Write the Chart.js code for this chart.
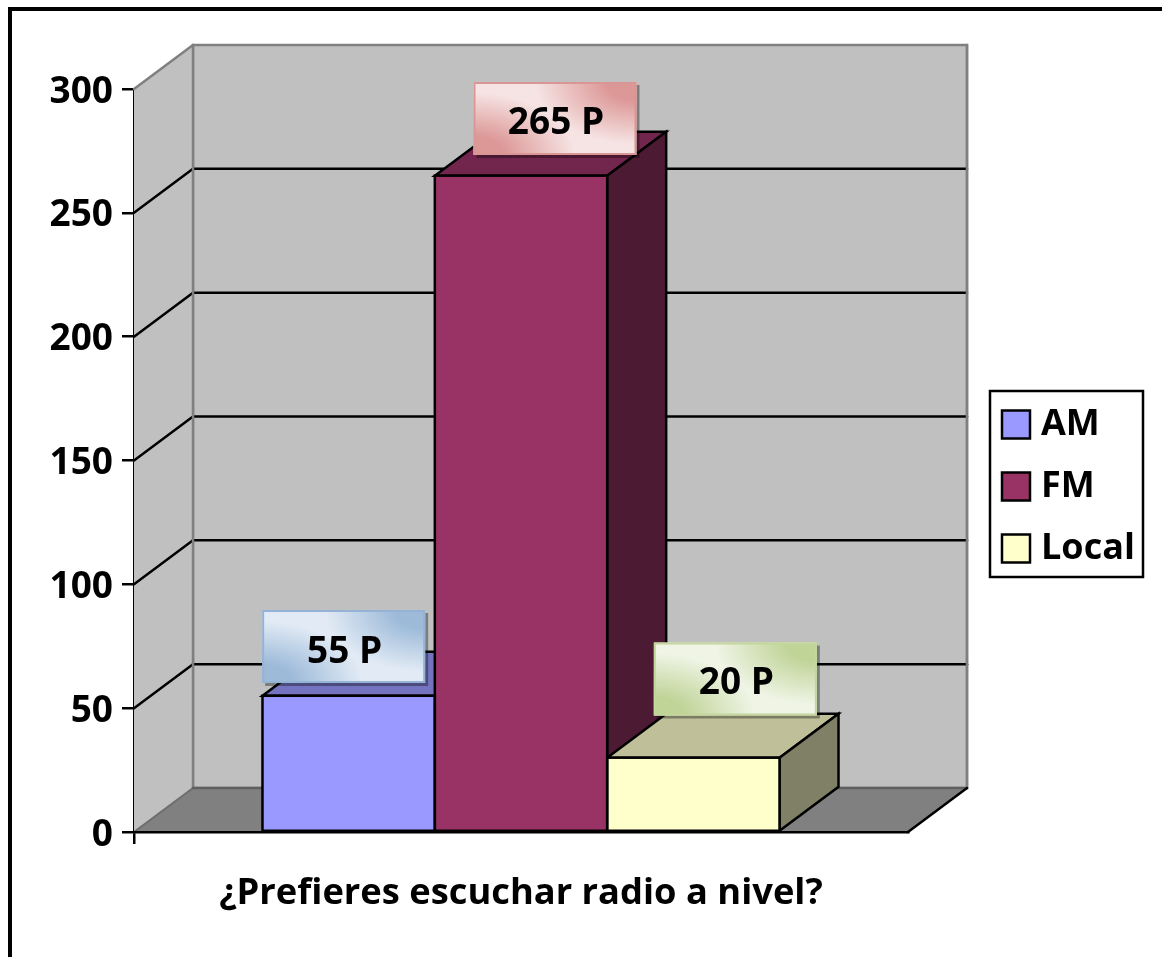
<!DOCTYPE html>
<html>
<head>
<meta charset="utf-8">
<style>html,body{margin:0;padding:0;background:#fff}canvas{display:block}</style>
<script src="https://cdn.jsdelivr.net/npm/chart.js@4"></script>
</head>
<body>
<canvas id="c" width="1162" height="957"></canvas>
<script>
const categories = ["¿Prefieres escuchar radio a nivel?"];
const seriesNames = ["AM", "FM", "Local"];
const amValues = [55];
const fmValues = [265];
const localValues = [30];
const pointLabels = ["55 P", "265 P", "20 P"];
const yMax = 300;
const yStep = 50;

const FONT = "'Open Sans'";
const DEPTH_X = 59, DEPTH_Y = 44;
const faceStyles = [
  {front:"#9999FF", top:"#7373BF", side:"#4D4D80"},
  {front:"#993366", top:"#73264D", side:"#4D1A33"},
  {front:"#FFFFCC", top:"#BFBF99", side:"#808066"}
];
const labelStyles = [
  {dx:-5, cy:646.5, ty:6, light:"#E2EBF5", dark:"#9DBAD9", border:"#95B3D7"},
  {dx:34, cy:118.5, ty:4.5, light:"#F6E3E3", dark:"#DC9897", border:"#D99694"},
  {dx:42, cy:679, ty:4.5, light:"#EFF4E5", dark:"#C0D498", border:"#C3D69B"}
];

function poly(ctx, pts, fill, stroke, lw) {
  ctx.beginPath();
  pts.forEach((p, i) => i ? ctx.lineTo(p[0], p[1]) : ctx.moveTo(p[0], p[1]));
  ctx.closePath();
  if (fill) { ctx.fillStyle = fill; ctx.fill(); }
  if (stroke) { ctx.strokeStyle = stroke; ctx.lineWidth = lw; ctx.lineJoin = "miter"; ctx.stroke(); }
}
function cornerGlow(ctx, x, y, w, h, cx, cy, color) {
  ctx.save();
  ctx.beginPath(); ctx.rect(x, y, w, h); ctx.clip();
  ctx.translate(cx, cy);
  ctx.scale(w * 0.62, h * 0.85);
  const g = ctx.createRadialGradient(0, 0, 0, 0, 0, 1);
  g.addColorStop(0, color);
  g.addColorStop(0.3, color);
  g.addColorStop(1, color + "00");
  ctx.fillStyle = g;
  ctx.fillRect(-2, -2, 4, 4);
  ctx.restore();
}

const scene = {
  id: "scene",
  beforeDraw(chart) {
    const ctx = chart.ctx;
    ctx.save();
    ctx.fillStyle = "#fff"; ctx.fillRect(0, 0, 1162, 957);
    ctx.fillStyle = "#000";
    ctx.fillRect(8, 7, 1154, 4);
    ctx.fillRect(8, 7, 4, 950);
    ctx.strokeStyle = "#000"; ctx.lineWidth = 2.5;
    ctx.strokeRect(990, 391, 153, 186);
    ctx.restore();
    const lg = chart.legend;
    lg.left = 983; lg.right = 1162; lg.top = 380.5; lg.bottom = 760;
  },
  beforeDatasetsDraw(chart) {
    const ctx = chart.ctx, y = chart.scales.y, a = chart.chartArea;
    const L = a.left, R = a.right, T = y.getPixelForValue(yMax), B = y.getPixelForValue(0);
    const dx = DEPTH_X, dy = DEPTH_Y;
    ctx.save();
    poly(ctx, [[L+dx,T-dy],[R+dx,T-dy],[R+dx,B-dy],[L+dx,B-dy]], "#C0C0C0", "#808080", 2.5);
    poly(ctx, [[L,T],[L+dx,T-dy],[L+dx,B-dy],[L,B]], "#C0C0C0", null);
    poly(ctx, [[L,B],[L+dx,B-dy],[R+dx,B-dy],[R,B]], "#808080", null);
    ctx.lineCap = "round";
    const seg = (x1,y1,x2,y2,c,w) => { ctx.beginPath(); ctx.moveTo(x1,y1); ctx.lineTo(x2,y2); ctx.strokeStyle=c; ctx.lineWidth=w; ctx.stroke(); };
    y.ticks.forEach(t => {
      if (t.value <= 0 || t.value >= yMax) return;
      const p = y.getPixelForValue(t.value);
      seg(L, p, L+dx, p-dy, "#000", 2.5);
      seg(L+dx, p-dy, R+dx, p-dy, "#000", 2.5);
    });
    seg(L, T, L+dx, T-dy, "#808080", 2.5);
    seg(L+dx, T-dy, L+dx, B-dy, "#808080", 2.5);
    seg(L, B, L+dx, B-dy, "#6E6E6E", 2);
    seg(L+dx, B-dy, R+dx, B-dy, "#606060", 2.5);
    seg(R+dx, T-dy, R+dx, B-dy, "#808080", 2.5);
    seg(R, B, R+dx, B-dy, "#000", 2.5);
    chart.data.datasets.forEach((d, i) => {
      const el = chart.getDatasetMeta(i).data[0];
      const x0 = el.x - el.width/2, x1 = el.x + el.width/2, yt = el.y, yb = el.base;
      const s = faceStyles[i];
      poly(ctx, [[x0,yt],[x0+dx,yt-dy],[x1+dx,yt-dy],[x1,yt]], s.top, "#000", 2.5);
      poly(ctx, [[x1,yt],[x1+dx,yt-dy],[x1+dx,yb-dy],[x1,yb]], s.side, "#000", 2.5);
    });
    ctx.restore();
  },
  afterDatasetsDraw(chart) {
    const ctx = chart.ctx;
    ctx.save();
    ctx.strokeStyle = "#000"; ctx.lineWidth = 2.5; ctx.lineJoin = "miter";
    chart.data.datasets.forEach((d, i) => {
      const el = chart.getDatasetMeta(i).data[0];
      const x0 = el.x - el.width/2, x1 = el.x + el.width/2;
      ctx.strokeRect(x0, el.y, x1 - x0, el.base - el.y);
    });
    ctx.restore();
  },
  afterDraw(chart) {
    const ctx = chart.ctx;
    ctx.save();
    chart.data.datasets.forEach((d, i) => {
      const el = chart.getDatasetMeta(i).data[0];
      const st = labelStyles[i];
      const w = 163, h = 73;
      const cx = el.x + st.dx, x = cx - w/2, yy = st.cy - h/2;
      ctx.fillStyle = "rgba(0,0,0,0.35)";
      ctx.fillRect(x+3, yy+3, w, h);
      ctx.fillStyle = st.light;
      ctx.fillRect(x, yy, w, h);
      cornerGlow(ctx, x, yy, w, h, x + w, yy, st.dark);
      cornerGlow(ctx, x, yy, w, h, x, yy + h, st.dark);
      ctx.strokeStyle = st.border; ctx.lineWidth = 2;
      ctx.strokeRect(x+1, yy+1, w-2, h-2);
      ctx.fillStyle = "#000";
      ctx.font = "bold 37px " + FONT;
      ctx.textAlign = "center"; ctx.textBaseline = "middle";
      ctx.fillText(pointLabels[i], cx + 1, st.cy + st.ty);
    });
    ctx.restore();
  }
};

const dsValues = [amValues, fmValues, localValues];
new Chart(document.getElementById("c"), {
  type: "bar",
  data: {
    labels: categories,
    datasets: seriesNames.map((n, i) => ({
      label: n,
      data: dsValues[i],
      backgroundColor: faceStyles[i].front,
      borderWidth: 0,
      inflateAmount: 0,
      barPercentage: 1,
      categoryPercentage: 0.668
    }))
  },
  options: {
    responsive: false,
    animation: false,
    devicePixelRatio: 1,
    layout: { autoPadding: false, padding: { left: 0, top: 89, right: 104, bottom: 0 } },
    plugins: {
      tooltip: { enabled: false },
      legend: {
        position: "right",
        align: "start",
        maxWidth: 150,
        labels: {
          usePointStyle: true, pointStyle: "rect",
          boxWidth: 14, boxHeight: 28, padding: 26, color: "#000",
          font: { family: FONT, weight: "bold", size: 36 },
          generateLabels: () => seriesNames.map((n, i) => ({
            text: n, fillStyle: faceStyles[i].front, strokeStyle: "#000",
            lineWidth: 2.5, pointStyle: "rect", rotation: 0, datasetIndex: i, hidden: false
          }))
        }
      }
    },
    scales: {
      x: {
        afterFit(s) { s.height = 125; },
        ticks: { display: false },
        border: { color: "#000", width: 2.5, z: 1 },
        grid: {
          drawOnChartArea: false, drawTicks: true, tickLength: 12,
          lineWidth: 2.5, color: c => c.index === 0 ? "#000" : "rgba(0,0,0,0)"
        },
        title: {
          display: true, text: categories[0], color: "#000",
          font: { family: FONT, weight: "bold", size: 36.3 },
          padding: { top: 0, bottom: 42 }
        }
      },
      y: {
        min: 0, max: yMax,
        afterFit(s) { s.width = 134; },
        border: { color: "#000", width: 2.5 },
        grid: { drawOnChartArea: false, drawTicks: true, tickLength: 12, color: "#000", lineWidth: 2.5 },
        ticks: {
          stepSize: yStep, padding: 9, color: "#000", labelOffset: 3,
          font: { family: FONT, weight: "bold", size: 37 }
        }
      }
    }
  },
  plugins: [scene]
});
</script>
</body>
</html>
